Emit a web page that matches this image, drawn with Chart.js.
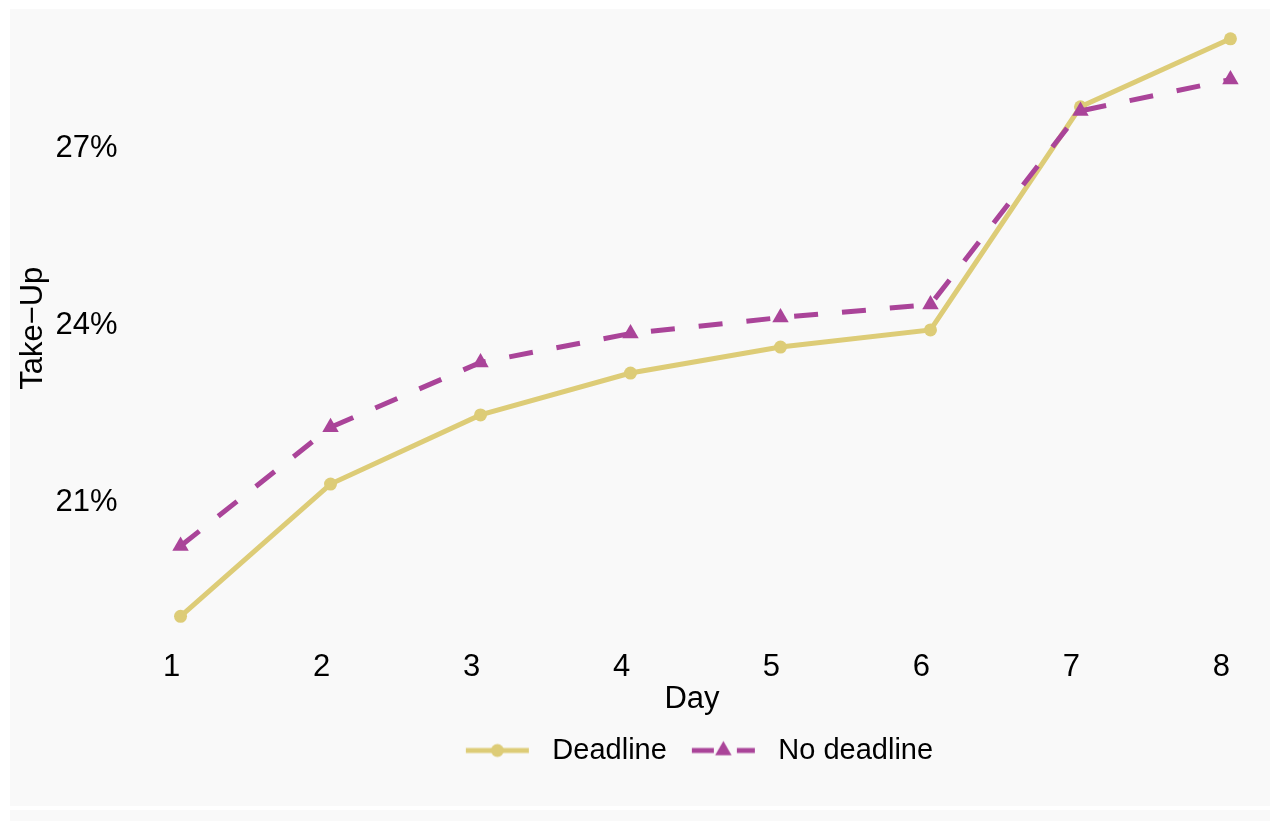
<!DOCTYPE html>
<html>
<head>
<meta charset="utf-8">
<script src="https://cdn.jsdelivr.net/npm/chart.js@4/dist/chart.umd.min.js"></script>
<style>
  html, body { margin: 0; padding: 0; background: #ffffff; }
  canvas { display: block; }
</style>
</head>
<body>
<canvas id="takeUpChart" width="1274" height="821"></canvas>
<script>
// values
const days = [1, 2, 3, 4, 5, 6, 7, 8];
const deadline = [19.08, 21.32, 22.49, 23.20, 23.64, 23.93, 27.71, 28.86];
const noDeadline = [20.27, 22.28, 23.38, 23.87, 24.14, 24.36, 27.64, 28.17];
const yTicks = [21, 24, 27];
const seriesNames = ['Deadline', 'No deadline'];

const gold = '#DDCC77';
const purple = '#AA4499';
const fontFamily = '"Liberation Sans", Arial, Helvetica, sans-serif';

Chart.defaults.color = '#000000';
Chart.defaults.font.family = fontFamily;

// small canvases used as legend keys (line + marker)
// a bit of blank space on the left keeps the items apart
const keyLead = 15;
function legendKey(color, dashed, marker) {
    const c = document.createElement('canvas');
    c.width = 72 + keyLead;
    c.height = 24;
    const g = c.getContext('2d');
    const cx = keyLead + 31.5;
    g.strokeStyle = color;
    g.fillStyle = color;
    g.lineWidth = 5;
    g.beginPath();
    if (dashed) {
        g.moveTo(keyLead, 12);
        g.lineTo(keyLead + 22, 12);
        g.moveTo(keyLead + 45, 12);
        g.lineTo(keyLead + 63, 12);
    } else {
        g.moveTo(keyLead, 12);
        g.lineTo(keyLead + 63, 12);
    }
    g.stroke();
    g.beginPath();
    if (marker === 'circle') {
        g.arc(cx, 12, 6.5, 0, Math.PI * 2);
    } else {
        const r = 9.5;
        g.moveTo(cx, 12 - r);
        g.lineTo(cx + r * Math.sqrt(3) / 2, 12 + r / 2);
        g.lineTo(cx - r * Math.sqrt(3) / 2, 12 + r / 2);
        g.closePath();
    }
    g.fill();
    return c;
}

const keyDeadline = legendKey(gold, false, 'circle');
const keyNoDeadline = legendKey(purple, true, 'triangle');

// light grey panel behind everything
const panelBackground = {
    id: 'panelBackground',
    beforeDraw(chart) {
        const c = chart.ctx;
        c.save();
        c.fillStyle = '#ffffff';
        c.fillRect(0, 0, chart.width, chart.height);
        c.fillStyle = '#f9f9f9';
        c.fillRect(10, 9, 1260, 797);
        c.fillRect(10, 810, 1260, 11);
        c.restore();
    }
};

const ctx = document.getElementById('takeUpChart').getContext('2d');

new Chart(ctx, {
    type: 'line',
    data: {
        datasets: [
            {
                label: seriesNames[0],
                data: days.map((d, i) => ({ x: d, y: deadline[i] })),
                borderColor: gold,
                backgroundColor: gold,
                borderWidth: 5,
                pointStyle: 'circle',
                pointRadius: 6.5,
                pointBorderWidth: 0,
                tension: 0,
                order: 1
            },
            {
                label: seriesNames[1],
                data: days.map((d, i) => ({ x: d, y: noDeadline[i] })),
                borderColor: purple,
                backgroundColor: purple,
                borderWidth: 5,
                borderDash: [24, 24],
                pointStyle: 'triangle',
                pointRadius: 9.5,
                pointBorderWidth: 0,
                tension: 0,
                order: 0
            }
        ]
    },
    options: {
        responsive: false,
        animation: false,
        devicePixelRatio: 1,
        layout: {
            padding: { top: 7, right: 0, bottom: 46, left: 0 }
        },
        plugins: {
            tooltip: { enabled: false },
            legend: {
                display: true,
                position: 'bottom',
                fullSize: false,
                labels: {
                    usePointStyle: true,
                    pointStyleWidth: 72 + keyLead,
                    padding: 10,
                    color: '#000000',
                    font: { size: 29, family: fontFamily },
                    generateLabels: () => [
                        { text: seriesNames[0], pointStyle: keyDeadline, fillStyle: gold, strokeStyle: gold, lineWidth: 0, datasetIndex: 0, hidden: false },
                        { text: seriesNames[1], pointStyle: keyNoDeadline, fillStyle: purple, strokeStyle: purple, lineWidth: 0, datasetIndex: 1, hidden: false }
                    ]
                }
            }
        },
        scales: {
            x: {
                type: 'linear',
                min: 0.593,
                max: 8.227,
                grid: { display: false, drawTicks: false },
                border: { display: false },
                afterBuildTicks: scale => { scale.ticks = days.map(v => ({ value: v })); },
                afterFit: scale => { scale.height = 79; },
                ticks: {
                    padding: 2,
                    labelOffset: -9,
                    color: '#000000',
                    maxRotation: 0,
                    font: { size: 31, family: fontFamily },
                    callback: v => String(v)
                },
                title: {
                    display: true,
                    text: 'Day',
                    color: '#000000',
                    padding: { top: 0, bottom: 7.5 },
                    font: { size: 31, family: fontFamily }
                }
            },
            y: {
                type: 'linear',
                min: 18.56,
                max: 29.357,
                grid: { display: false, drawTicks: false },
                border: { display: false },
                afterBuildTicks: scale => { scale.ticks = yTicks.map(v => ({ value: v })); },
                afterFit: scale => {
                    scale.width = 119.5;
                    scale.paddingTop = 0;
                    scale.paddingBottom = 0;
                },
                ticks: {
                    padding: 2,
                    color: '#000000',
                    font: { size: 31, family: fontFamily },
                    callback: v => v + '%'
                },
                title: {
                    display: true,
                    text: 'Take\u2212Up',
                    color: '#000000',
                    padding: { top: 15, bottom: 0 },
                    font: { size: 31, family: fontFamily }
                }
            }
        }
    },
    plugins: [panelBackground]
});
</script>
</body>
</html>
